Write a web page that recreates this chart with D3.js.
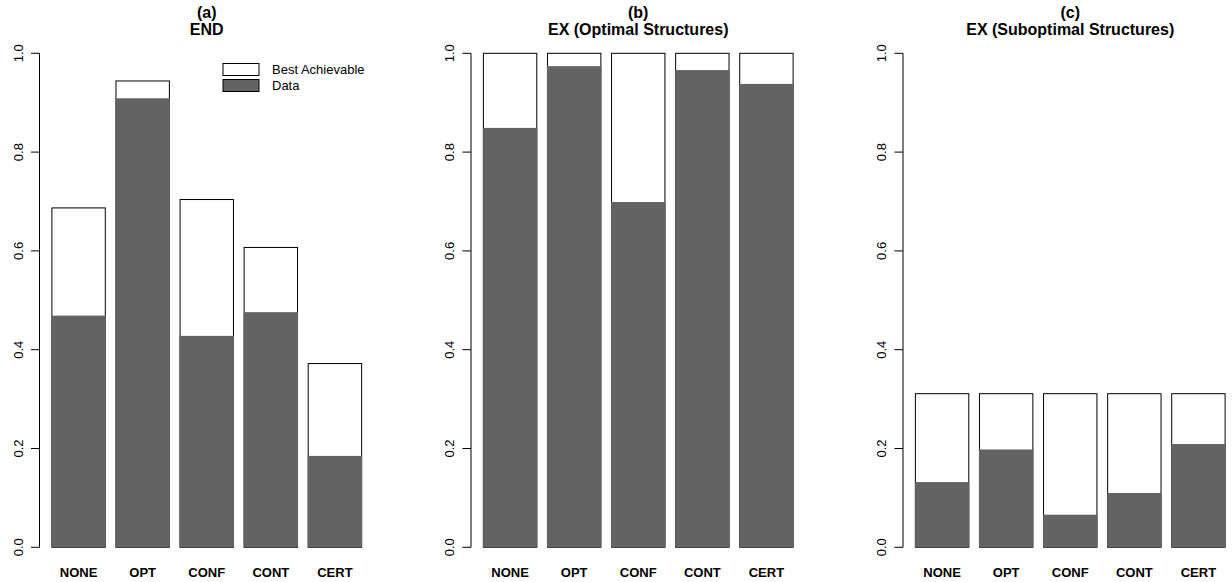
<!DOCTYPE html>
<html>
<head>
<meta charset="utf-8">
<script src="https://cdn.jsdelivr.net/npm/d3@7"></script>
<style>
  body { margin: 0; background: #fff; }
  text { font-family: "Liberation Sans", Arial, sans-serif; fill: #000; }
</style>
</head>
<body>
<svg id="chart" width="1232" height="582"></svg>
<script>
// categories and values
const categories = ['NONE', 'OPT', 'CONF', 'CONT', 'CERT']
const panelLetters = ['(a)', '(b)', '(c)']
const panelTitles = ['END', 'EX (Optimal Structures)', 'EX (Suboptimal Structures)']
// best achievable (white bar height)
const bestEND = [0.687, 0.944, 0.704, 0.607, 0.372]
const bestEXopt = [1.0, 1.0, 1.0, 1.0, 1.0]
const bestEXsub = [0.311, 0.311, 0.311, 0.311, 0.311]
// observed data (dark bar height)
const dataEND = [0.469, 0.909, 0.428, 0.476, 0.185]
const dataEXopt = [0.849, 0.974, 0.699, 0.966, 0.938]
const dataEXsub = [0.132, 0.198, 0.066, 0.110, 0.209]
const yTicks = [0, 0.2, 0.4, 0.6, 0.8, 1.0]
const legendLabels = ['Best Achievable', 'Data']

const best = [bestEND, bestEXopt, bestEXsub]
const data = [dataEND, dataEXopt, dataEXsub]

const dark = '#636363'
const svg = d3.select('#chart')

// layout (pixels)
const axisX = [39.5, 471, 903]
const unit = 53.4          // width of one bar
const space = 0.2          // gap between bars, as in barplot()
const y = d3.scaleLinear().domain([0, 1]).range([547.3, 53.3])

best.forEach((bestVals, p) => {
  // x in barplot units: bars sit at space + i*(1+space)
  const xMax = categories.length * (1 + space)
  const pad = 0.04 * (xMax - space)
  const x = d3.scaleLinear()
    .domain([space - pad, xMax + pad])
    .range([axisX[p], axisX[p] + (xMax - space + 2 * pad) * unit])
  const g = svg.append('g')

  const bars = categories.map((c, i) => ({
    cat: c,
    best: bestVals[i],
    val: data[p][i],
    x0: space + i * (1 + space)
  }))

  // white "best achievable" bars with outline
  g.selectAll('rect.best').data(bars).enter().append('rect')
    .attr('class', 'best')
    .attr('x', d => x(d.x0))
    .attr('width', d => x(d.x0 + 1) - x(d.x0))
    .attr('y', d => y(d.best))
    .attr('height', d => y(0) - y(d.best))
    .attr('fill', '#fff')
    .attr('stroke', '#000')
    .attr('stroke-width', 1)

  // dark data bars on top
  g.selectAll('rect.data').data(bars).enter().append('rect')
    .attr('class', 'data')
    .attr('x', d => x(d.x0) - 0.5)
    .attr('width', d => x(d.x0 + 1) - x(d.x0) + 1)
    .attr('y', d => y(d.val))
    .attr('height', d => y(0) - y(d.val))
    .attr('fill', dark)

  // category labels
  g.selectAll('text.cat').data(bars).enter().append('text')
    .attr('class', 'cat')
    .attr('x', d => x(d.x0 + 0.5))
    .attr('y', 576.5)
    .attr('text-anchor', 'middle')
    .style('font-size', '13px')
    .style('font-weight', 'bold')
    .text(d => d.cat)

  // y axis, R style: rotated labels, outward ticks
  const ax = svg.append('g').attr('transform', `translate(${axisX[p]},0)`)
  ax.append('line')
    .attr('x1', 0).attr('x2', 0)
    .attr('y1', y(0)).attr('y2', y(1))
    .attr('stroke', '#000')
  ax.selectAll('line.tick').data(yTicks).enter().append('line')
    .attr('class', 'tick')
    .attr('x1', -8.5).attr('x2', 0)
    .attr('y1', d => y(d)).attr('y2', d => y(d))
    .attr('stroke', '#000')
  ax.selectAll('text').data(yTicks).enter().append('text')
    .attr('transform', d => `translate(-17,${y(d)}) rotate(-90)`)
    .attr('text-anchor', 'middle')
    .style('font-size', '13px')
    .text(d => d.toFixed(1))

  // titles
  const cx = (x.range()[0] + x.range()[1]) / 2
  g.append('text')
    .attr('x', cx).attr('y', 17.5)
    .attr('text-anchor', 'middle')
    .style('font-size', '16px').style('font-weight', 'bold')
    .text(panelLetters[p])
  g.append('text')
    .attr('x', cx).attr('y', 35)
    .attr('text-anchor', 'middle')
    .style('font-size', '16px').style('font-weight', 'bold')
    .text(panelTitles[p])
})

// legend in panel (a)
const leg = svg.append('g').attr('transform', 'translate(223,63.5)')
legendLabels.forEach((lab, i) => {
  leg.append('rect')
    .attr('x', 0).attr('y', i * 16)
    .attr('width', 36).attr('height', 12)
    .attr('fill', i === 0 ? '#fff' : dark)
    .attr('stroke', '#000')
  leg.append('text')
    .attr('x', 49).attr('y', i * 16 + 10.5)
    .style('font-size', '13px')
    .text(lab)
})
</script>
</body>
</html>
